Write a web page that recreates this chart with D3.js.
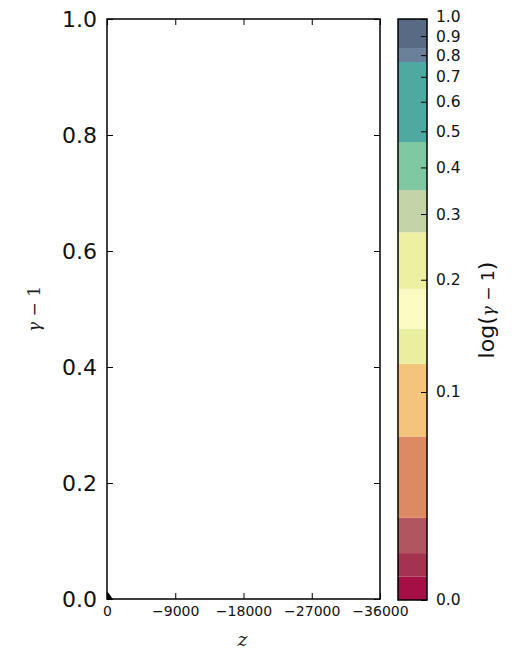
<!DOCTYPE html>
<html>
<head>
<meta charset="utf-8">
<script src="https://cdn.jsdelivr.net/npm/d3@7"></script>
<style>
  html, body { margin: 0; padding: 0; background: #fff; }
  svg { display: block; font-family: "DejaVu Sans", sans-serif; }
</style>
</head>
<body>
<svg id="chart" width="519" height="656"></svg>
<script>
// Axis ticks of the main panel
const zTicks = [0, -9000, -18000, -27000, -36000];
const gammaTicks = [0.0, 0.2, 0.4, 0.6, 0.8, 1.0];

// Trajectory near the origin (z, gamma - 1)
const zData = [0, -150, -320, -480, -620];
const gammaData = [0.011, 0.009, 0.006, 0.003, 0.0];

// Colour levels of the filled contours (lower/upper edges of each band)
const levelEdges = [0.0277, 0.032, 0.037, 0.046, 0.076, 0.119, 0.148, 0.189, 0.268, 0.348, 0.468, 0.767, 0.836, 1.0];
const levelColors = ["#a50f46", "#a3334f", "#b05660", "#dc8a63", "#f5c47c", "#eaeea0",
                     "#fcfbc3", "#edf0a2", "#c2d4a8", "#80c8a2", "#4fa9a3", "#6b809b", "#596a85"];
const cbarTicks = [0.0277, 0.1, 0.2, 0.3, 0.4, 0.5, 0.6, 0.7, 0.8, 0.9, 1.0];

const svg = d3.select("#chart");
svg.append("rect").attr("width", 519).attr("height", 656).attr("fill", "#fff");

const plot = { left: 107, right: 380, top: 19, bottom: 599 };
const x = d3.scaleLinear().domain([0, -36000]).range([plot.left, plot.right]);
const y = d3.scaleLinear().domain([0, 1]).range([plot.bottom, plot.top]);

// data
const area = d3.area()
  .x((d, i) => x(zData[i]))
  .y0(y(0))
  .y1((d, i) => y(gammaData[i]));
svg.append("path").datum(zData).attr("d", area).attr("fill", "#000");
svg.append("path").datum(zData)
  .attr("d", d3.line().x((d, i) => x(zData[i])).y((d, i) => y(gammaData[i])))
  .attr("fill", "none").attr("stroke", "#000").attr("stroke-width", 1.5);

// axes with inward ticks on all four sides
const fmtZ = d => d === 0 ? "0" : d3.format("d")(d).replace("-", "\u2212");
const bottomAx = svg.append("g").attr("transform", `translate(0,${plot.bottom})`)
  .call(d3.axisBottom(x).tickValues(zTicks).tickSizeInner(-6).tickSizeOuter(0).tickPadding(7).tickFormat(fmtZ));
bottomAx.selectAll("text").attr("font-size", 14).attr("font-family", "DejaVu Sans").attr("fill", "#111");
const topAx = svg.append("g").attr("transform", `translate(0,${plot.top})`)
  .call(d3.axisTop(x).tickValues(zTicks).tickSizeInner(-6).tickSizeOuter(0).tickFormat(""));
const leftAx = svg.append("g").attr("transform", `translate(${plot.left},0)`)
  .call(d3.axisLeft(y).tickValues(gammaTicks).tickSizeInner(-6).tickSizeOuter(0).tickPadding(10).tickFormat(d3.format(".1f")));
leftAx.selectAll("text").attr("font-size", 22).attr("font-family", "DejaVu Sans").attr("fill", "#111");
const rightAx = svg.append("g").attr("transform", `translate(${plot.right},0)`)
  .call(d3.axisRight(y).tickValues(gammaTicks).tickSizeInner(-6).tickSizeOuter(0).tickFormat(""));
[bottomAx, topAx, leftAx, rightAx].forEach(g => {
  g.select(".domain").remove();
  g.selectAll("line").attr("stroke", "#000").attr("stroke-width", 1);
});
svg.append("rect")
  .attr("x", plot.left).attr("y", plot.top)
  .attr("width", plot.right - plot.left).attr("height", plot.bottom - plot.top)
  .attr("fill", "none").attr("stroke", "#000").attr("stroke-width", 1.5);

// axis titles
svg.append("text").attr("x", (plot.left + plot.right) / 2 - 1).attr("y", 646)
  .attr("text-anchor", "middle").attr("font-family", "DejaVu Serif").attr("font-style", "italic")
  .attr("font-size", 19).attr("fill", "#222").text("z");
const yl = svg.append("text").attr("transform", "translate(40,309) rotate(-90)")
  .attr("text-anchor", "middle").attr("font-size", 17).attr("fill", "#222");
yl.append("tspan").attr("font-family", "DejaVu Serif").attr("font-style", "italic").text("γ");
yl.append("tspan").attr("font-family", "DejaVu Serif").text(" \u2212 1");

// colour bar
const cb = { left: 398, right: 427, top: 19, bottom: 600 };
const c = d3.scaleLog().domain([levelEdges[0], 1]).range([cb.bottom, cb.top]);
svg.append("g").selectAll("rect").data(levelColors).join("rect")
  .attr("x", cb.left).attr("width", cb.right - cb.left)
  .attr("y", (d, i) => c(levelEdges[i + 1]))
  .attr("height", (d, i) => c(levelEdges[i]) - c(levelEdges[i + 1]))
  .attr("fill", d => d);
const cbAx = svg.append("g").attr("transform", `translate(${cb.right},0)`)
  .call(d3.axisRight(c).tickValues(cbarTicks).tickSizeInner(-6).tickSizeOuter(0).tickPadding(9).tickFormat(d3.format(".1f")));
cbAx.select(".domain").remove();
cbAx.selectAll("line").attr("stroke", "#000");
cbAx.selectAll("text").attr("font-size", 15.5).attr("font-family", "DejaVu Sans").attr("fill", "#111");
// the topmost label sits a little higher so it clears its neighbour
cbAx.selectAll(".tick").filter(d => d === 1.0).select("text").attr("y", -2.5);
svg.append("rect")
  .attr("x", cb.left).attr("y", cb.top)
  .attr("width", cb.right - cb.left).attr("height", cb.bottom - cb.top)
  .attr("fill", "none").attr("stroke", "#000").attr("stroke-width", 1.5);

const cl = svg.append("text").attr("transform", "translate(494,310) rotate(-90)")
  .attr("text-anchor", "middle").attr("font-size", 22).attr("fill", "#111");
cl.append("tspan").attr("font-family", "DejaVu Sans").text("log(");
cl.append("tspan").attr("font-family", "DejaVu Serif").attr("font-style", "italic").attr("font-size", 17).text("γ");
cl.append("tspan").attr("font-family", "DejaVu Sans").attr("font-size", 17).text(" \u2212 1");
cl.append("tspan").attr("font-family", "DejaVu Sans").text(")");
</script>
</body>
</html>
